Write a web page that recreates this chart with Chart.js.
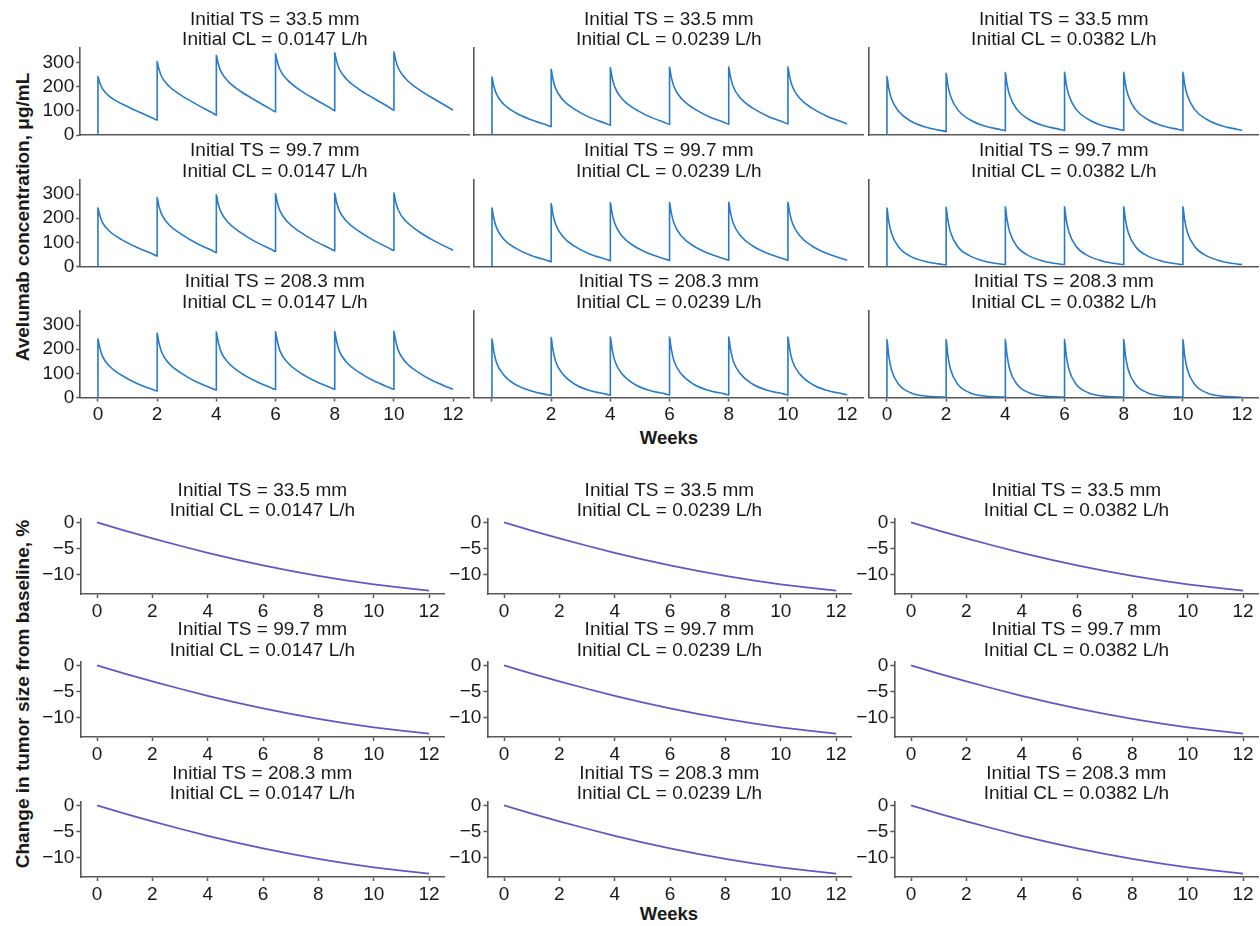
<!DOCTYPE html>
<html>
<head>
<meta charset="utf-8">
<script src="https://cdn.jsdelivr.net/npm/chart.js@4.4.1/dist/chart.umd.min.js"></script>
<style>
html,body{margin:0;padding:0;background:#fff;}
#fig{position:relative;width:1260px;height:926px;overflow:hidden;font-family:'Liberation Sans',Arial,Helvetica,sans-serif;color:#1a1a1a;}
#fig canvas{position:absolute;}
.axt{position:absolute;font-weight:bold;font-size:19px;line-height:1;white-space:nowrap;}
</style>
</head>
<body>
<div id="fig">
  <div class="axt" style="left:22px;top:217px;transform:translate(-50%,-50%) rotate(-90deg);">Avelumab concentration, μg/mL</div>
  <div class="axt" style="left:669px;top:438px;transform:translate(-50%,-50%);font-size:18.5px;">Weeks</div>
  <div class="axt" style="left:22px;top:694px;transform:translate(-50%,-50%) rotate(-90deg);">Change in tumor size from baseline, %</div>
  <div class="axt" style="left:669px;top:914px;transform:translate(-50%,-50%);font-size:18.5px;">Weeks</div>
</div>
<script>
// ================= DATA =================
const initialTS = ['33.5', '99.7', '208.3'];
const initialCL = ['0.0147', '0.0239', '0.0382'];

// sampling times (weeks) of the concentration profiles; doses every 2 weeks
const weeksPK = [0,
  0,0.05,0.15,0.4,0.8,1.3,1.85,2,
  2,2.05,2.15,2.4,2.8,3.3,3.85,4,
  4,4.05,4.15,4.4,4.8,5.3,5.85,6,
  6,6.05,6.15,6.4,6.8,7.3,7.85,8,
  8,8.05,8.15,8.4,8.8,9.3,9.85,10,
  10,10.05,10.15,10.4,10.8,11.3,11.85,12];

// Avelumab concentration, µg/mL
const conc_TS33_CL0147 = [0,
  242,220,192,159,129,100,70,62,
  304,277,242,202,165,129,93,83,
  329,301,264,222,182,145,106,96,
  336,308,270,228,188,150,112,101,
  340,312,274,231,191,153,114,103,
  343,314,276,233,192,153,114,103];
const conc_TS33_CL0239 = [0,
  240,209,170,127,92,64,41,35,
  272,237,193,145,106,73,48,41,
  278,243,198,149,110,77,51,44,
  280,245,200,151,111,78,52,45,
  281,246,201,152,112,79,53,46,
  281,246,201,152,112,79,53,46];
const conc_TS33_CL0382 = [0,
  242,201,151,97,58,33,18,15,
  255,212,160,103,63,37,22,18,
  258,215,162,105,64,38,23,19,
  259,216,163,105,65,38,23,19,
  259,216,163,105,65,38,23,19,
  259,216,163,105,65,38,23,19];
const conc_TS99_CL0147 = [0,
  242,216,183,145,111,80,52,44,
  285,255,217,173,135,98,66,57,
  297,266,227,182,142,104,71,62,
  301,270,230,185,145,107,74,65,
  303,272,232,187,147,109,75,66,
  304,273,233,188,148,110,76,67];
const conc_TS99_CL0239 = [0,
  242,206,162,113,76,47,26,20,
  260,222,175,123,83,52,30,24,
  264,226,178,125,85,54,31,25,
  265,227,179,126,86,55,32,26,
  266,228,180,127,86,55,32,26,
  266,228,180,127,86,55,32,26];
const conc_TS99_CL0382 = [0,
  242,195,139,80,42,21,9,7,
  245,198,141,81,44,22,10,8,
  247,199,142,82,44,22,10,8,
  247,199,142,82,44,22,10,8,
  247,199,142,82,44,22,10,8,
  247,199,142,82,44,22,10,8];
const conc_TS208_CL0147 = [0,
  242,212,171,128,92,59,33,27,
  266,233,188,141,102,66,38,31,
  271,238,192,145,104,69,40,33,
  272,239,193,146,105,70,41,34,
  273,240,194,146,106,70,41,34,
  273,240,194,146,106,70,41,34];
const conc_TS208_CL0239 = [0,
  242,200,146,93,53,28,12,9,
  248,205,150,96,55,29,14,10,
  250,207,152,97,56,30,15,11,
  250,207,152,97,56,30,15,11,
  250,207,152,97,56,30,15,11,
  250,207,152,97,56,30,15,11];
const conc_TS208_CL0382 = [0,
  240,183,116,54,20,6,2,1,
  240,183,116,54,20,6,2,1,
  240,183,116,54,20,6,2,1,
  240,183,116,54,20,6,2,1,
  240,183,116,54,20,6,2,1,
  240,183,116,54,20,6,2,1];

// change in tumor size from baseline, %
const weeksTumor = [0,1,2,3,4,5,6,7,8,9,10,11,12];
const tumorChangePct = [0,-1.55,-3.05,-4.45,-5.8,-7.05,-8.2,-9.25,-10.2,-11.05,-11.8,-12.45,-13.0];

// tick values
const weekTicks = [0,2,4,6,8,10,12];
const concTicks = [0,100,200,300];
const tumorTicks = [-10,-5,0];

const concGrid = [
  [conc_TS33_CL0147, conc_TS33_CL0239, conc_TS33_CL0382],
  [conc_TS99_CL0147, conc_TS99_CL0239, conc_TS99_CL0382],
  [conc_TS208_CL0147, conc_TS208_CL0239, conc_TS208_CL0382]
];

// ================= LAYOUT / STYLE =================
const FONT = "'Liberation Sans', Arial, Helvetica, sans-serif";
const TXT = '#1a1a1a', AXC = '#585858';
const PK_COLOR = '#2a7bc4', TUMOR_COLOR = '#6656c0';
const TOPL = { plotTop:[48,179.5,310.5], plotH:87, plotLeft:[80.2,474.2,869.2], plotW:389.2,
               title1:[19.3,151,281.5], title2:[39.8,171.8,302.3], xmin:-0.6, xmax:12.55 };
const BOTL = { plotTop:[519,662,802], plotH:75, plotLeft:[80.4,487.4,894.4], plotW:363.9,
               title1:[491,630,773.7], title2:[510.5,650.3,794], xmin:-0.6, xmax:12.55 };

const fig = document.getElementById('fig');

function titlePlugin(lines, ys) {
  return {
    id: 'panelTitle',
    afterDraw(chart) {
      const {ctx, chartArea} = chart;
      ctx.save();
      ctx.font = '19px ' + FONT;
      ctx.fillStyle = TXT;
      ctx.textAlign = 'center';
      ctx.textBaseline = 'middle';
      const cx = (chartArea.left + chartArea.right) / 2;
      lines.forEach((t, i) => ctx.fillText(t, cx, ys[i]));
      ctx.restore();
    }
  };
}

function makePanel(o) {
  const L = o.L;
  const pl = L.plotLeft[o.c], pt = L.plotTop[o.r];
  const pr = pl + L.plotW, pb = pt + L.plotH;
  const padL = o.showY ? 62 : 3, padR = 3, padT = 46, padB = o.showX ? 34 : 16;
  const cl = Math.floor(pl - padL), ct = Math.floor(pt - padT);
  const cr = Math.ceil(pr + padR), cb = Math.ceil(pb + padB);
  const cv = document.createElement('canvas');
  cv.width = cr - cl; cv.height = cb - ct;
  cv.style.left = cl + 'px'; cv.style.top = ct + 'px';
  cv.style.width = (cr - cl) + 'px'; cv.style.height = (cb - ct) + 'px';
  fig.appendChild(cv);
  const WY = o.showY ? 56 : 0, HX = o.showX ? 30 : 0;
  const ty = [L.title1[o.r] - ct, L.title2[o.r] - ct];
  const tickFont = {family: FONT, size: 19};
  new Chart(cv, {
    type: 'line',
    data: { datasets: [{
      data: o.xs.map((x, i) => ({x: x, y: o.ys[i]})),
      borderColor: o.color, borderWidth: o.lw, pointRadius: 0, fill: false,
      cubicInterpolationMode: 'monotone'
    }]},
    options: {
      responsive: false, animation: false, devicePixelRatio: 1, events: [],
      layout: { padding: { left: (pl - cl) - WY, right: cr - pr, top: pt - ct, bottom: (cb - pb) - HX } },
      plugins: { legend: {display: false}, tooltip: {enabled: false}, title: {display: false} },
      scales: {
        x: {
          type: 'linear', min: L.xmin, max: L.xmax, bounds: 'data',
          afterBuildTicks: s => { s.ticks = weekTicks.map(v => ({value: v})); },
          afterFit: s => { s.height = HX; },
          grid: { display: o.showX, drawOnChartArea: false, drawTicks: true, tickLength: 4, tickColor: AXC, tickWidth: 1.5 },
          border: { display: true, color: AXC, width: 1.6 },
          ticks: { display: o.showX, autoSkip: false, maxRotation: 0, minRotation: 0, padding: 2, color: TXT, font: tickFont,
                   callback: o.xLabel }
        },
        y: {
          type: 'linear', min: o.ymin, max: o.ymax, bounds: 'data',
          afterBuildTicks: s => { s.ticks = o.yTicks.map(v => ({value: v})); },
          afterFit: s => { s.width = WY; },
          grid: { display: o.showY, drawOnChartArea: false, drawTicks: true, tickLength: 4, tickColor: AXC, tickWidth: 1.5 },
          border: { display: true, color: AXC, width: 1.6 },
          ticks: { display: o.showY, autoSkip: false, padding: 2, color: TXT, font: tickFont,
                   callback: o.yLabel }
        }
      }
    },
    plugins: [titlePlugin(o.lines, ty)]
  });
}

const plainLabel = v => String(v);
const minusLabel = v => (v < 0 ? '\u2212' + Math.abs(v) : String(v));

for (let r = 0; r < 3; r++) {
  for (let c = 0; c < 3; c++) {
    makePanel({
      L: TOPL, r: r, c: c, xs: weeksPK, ys: concGrid[r][c], color: PK_COLOR, lw: 1.6,
      ymin: 0, ymax: 360, yTicks: concTicks,
      showX: r === 2, showY: c === 0,
      xLabel: (r === 2 && c === 1) ? (v => (v === 0 ? '' : String(v))) : plainLabel,
      yLabel: plainLabel,
      lines: ['Initial TS = ' + initialTS[r] + ' mm', 'Initial CL = ' + initialCL[c] + ' L/h']
    });
  }
}
for (let r = 0; r < 3; r++) {
  for (let c = 0; c < 3; c++) {
    makePanel({
      L: BOTL, r: r, c: c, xs: weeksTumor, ys: tumorChangePct, color: TUMOR_COLOR, lw: 1.8,
      ymin: -13.65, ymax: 0.65, yTicks: tumorTicks,
      showX: true, showY: true,
      xLabel: plainLabel, yLabel: minusLabel,
      lines: ['Initial TS = ' + initialTS[r] + ' mm', 'Initial CL = ' + initialCL[c] + ' L/h']
    });
  }
}
</script>
</body>
</html>
